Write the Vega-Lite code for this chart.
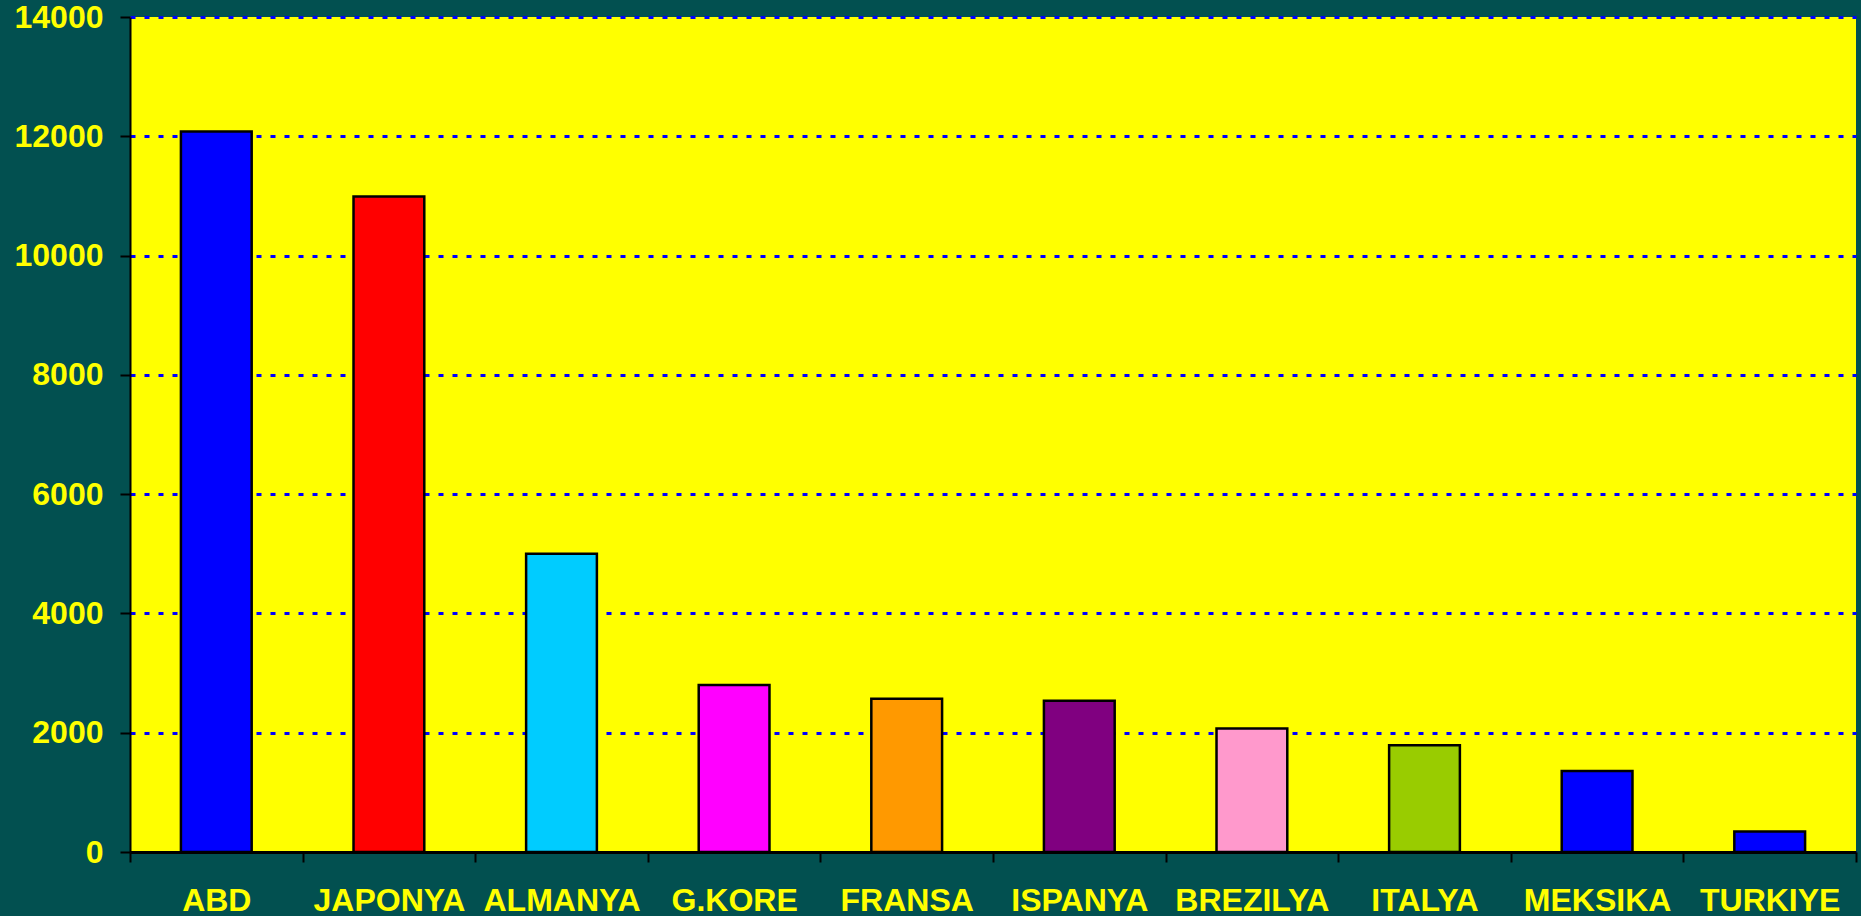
{
  "$schema": "https://vega.github.io/schema/vega-lite/v6.json",
  "autosize": {"type": "none"},
  "width": 1726,
  "height": 835,
  "padding": {"left": 130, "top": 17, "right": 5, "bottom": 64},
  "background": "#025050",
  "config": {
    "view": {"fill": "#FFFF00", "stroke": null},
    "axis": {
      "labelFont": "Liberation Sans",
      "labelFontSize": 32,
      "labelFontWeight": "bold",
      "labelColor": "#FFFF00",
      "domainColor": "#000000",
      "domainWidth": 2,
      "tickColor": "#000000",
      "tickWidth": 2,
      "tickSize": 10,
      "title": null
    }
  },
  "data": {
    "values": [
      {"country": "ABD", "value": 12080},
      {"country": "JAPONYA", "value": 10990},
      {"country": "ALMANYA", "value": 5000},
      {"country": "G.KORE", "value": 2800},
      {"country": "FRANSA", "value": 2570},
      {"country": "ISPANYA", "value": 2535},
      {"country": "BREZILYA", "value": 2070},
      {"country": "ITALYA", "value": 1790},
      {"country": "MEKSIKA", "value": 1360},
      {"country": "TURKIYE", "value": 345}
    ]
  },
  "mark": {"type": "bar", "stroke": "#000000", "strokeWidth": 2.5, "width": {"band": 0.41}},
  "encoding": {
    "x": {
      "field": "country",
      "type": "nominal",
      "sort": null,
      "scale": {"paddingInner": 0, "paddingOuter": 0},
      "axis": {
        "labelAngle": 0,
        "labelPadding": 23,
        "tickBand": "extent",
        "grid": false,
        "zindex": 1,
        "domainWidth": 3
      }
    },
    "y": {
      "field": "value",
      "type": "quantitative",
      "scale": {"domain": [0, 14000], "nice": false},
      "axis": {
        "values": [0, 2000, 4000, 6000, 8000, 10000, 12000, 14000],
        "format": "d",
        "labelPadding": 17,
        "grid": true,
        "gridColor": "#0000FF",
        "gridWidth": 3,
        "gridDash": [5, 9],
        "gridOpacity": 1
      }
    },
    "color": {
      "field": "country",
      "type": "nominal",
      "scale": {
        "domain": ["ABD", "JAPONYA", "ALMANYA", "G.KORE", "FRANSA", "ISPANYA", "BREZILYA", "ITALYA", "MEKSIKA", "TURKIYE"],
        "range": ["#0000FF", "#FF0000", "#00CCFF", "#FF00FF", "#FF9900", "#800080", "#FF99CC", "#99CC00", "#0000FF", "#0000FF"]
      },
      "legend": null
    }
  }
}
